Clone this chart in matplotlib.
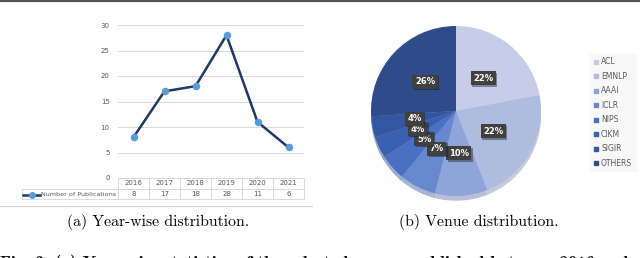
import matplotlib
matplotlib.use("Agg")
import matplotlib.pyplot as plt
import matplotlib.patheffects as pe
from matplotlib.lines import Line2D

# data
years = ["2016", "2017", "2018", "2019", "2020", "2021"]
pubs = [8, 17, 18, 28, 11, 6]
series_name = "Number of Publications"

venues = ["ACL", "EMNLP", "AAAI", "ICLR", "NIPS", "CIKM", "SIGIR", "OTHERS"]
shares = [22, 22, 10, 7, 5, 4, 4, 26]
venue_colors = ["#c5cde8", "#aebce0", "#8fa4d8", "#6787ce", "#4a70c3",
                "#3a60b2", "#34559f", "#2e4b8a"]

W, H = 640, 258
fig = plt.figure(figsize=(W / 100, H / 100), dpi=100)

def px(x0, y0, x1, y1):
    # pixel box (top-left origin) -> figure fraction rect
    return [x0 / W, 1 - y1 / H, (x1 - x0) / W, (y1 - y0) / H]

grey_txt = "#595959"
grid_c = "#d9d9d9"

# ---- left: line chart with data table ----
ax = fig.add_axes(px(118, 25, 304, 178))
x = list(range(len(years)))
ax.plot(x, pubs, color="#1f3864", lw=1.8, marker="o", ms=4.4,
        mfc="#5b9bd5", mec="#5b9bd5", zorder=3)
ax.set_xlim(-0.5, len(years) - 0.5)
ax.set_ylim(0, 30)
ax.set_yticks(range(0, 31, 5))
ax.grid(axis="y", color=grid_c, lw=0.7)
ax.set_axisbelow(True)
for s in ax.spines.values():
    s.set_visible(False)
ax.tick_params(axis="y", length=0, labelsize=5, labelcolor=grey_txt, pad=6)
ax.tick_params(axis="x", length=0, labelbottom=False)

ax_h = 153.0
lab_w = 96 / 186
tbl = ax.table(cellText=[[""] + [str(v) for v in pubs]],
               colLabels=[""] + years,
               colWidths=[lab_w] + [1 / 6] * 6,
               cellLoc="center", colLoc="center",
               bbox=[-lab_w, -21 / ax_h, 1 + lab_w, 21 / ax_h])
tbl.auto_set_font_size(False)
for (r, c), cell in tbl.get_celld().items():
    cell.set_edgecolor(grid_c)
    cell.set_linewidth(0.7)
    cell.get_text().set_fontsize(5)
    cell.get_text().set_color(grey_txt)
tbl[0, 0].set_visible(False)

# legend key inside the row label cell
ya = 1 - 194.5 / H
fig.add_artist(Line2D([23 / W, 40 / W], [ya, ya], color="#1f3864", lw=1.8,
                      transform=fig.transFigure))
fig.add_artist(Line2D([31.5 / W], [ya], marker="o", ms=4, color="#5b9bd5",
                      transform=fig.transFigure))
fig.text(41 / W, ya, series_name, fontsize=4.6, color=grey_txt, va="center")

# light rule under left chart
fig.add_artist(Line2D([0, 312 / W], [1 - 206 / H] * 2, color="#d0d0d0", lw=0.8,
                      transform=fig.transFigure))

# ---- right: pie ----
pax = fig.add_axes(px(371, 26, 541, 196))
wedges, _, autot = pax.pie(shares, colors=venue_colors, startangle=90,
                           counterclock=False, autopct="%d%%",
                           pctdistance=0.5, radius=1,
                           shadow={"ox": 0.0, "oy": -0.04, "shade": 0.2},
                           wedgeprops=dict(lw=0),
                           textprops=dict(color="white", fontsize=6,
                                          fontweight="bold"))
for t in autot:
    t.set_bbox(dict(boxstyle="square,pad=0.3", fc="#404040", ec="none"))
    t.get_bbox_patch().set_path_effects(
        [pe.SimplePatchShadow(offset=(1, -1), alpha=0.4), pe.Normal()])
pax.set_xlim(-1, 1)
pax.set_ylim(-1, 1)
pax.set_aspect("equal")

handles = [Line2D([], [], ls="none", marker="s", ms=3.5, color=c)
           for c in venue_colors]
leg = fig.legend(handles, venues, loc="upper left",
                 bbox_to_anchor=(585 / W, 1 - 49 / H), frameon=True,
                 fontsize=5.5, labelspacing=0.72, handlelength=0.6,
                 handletextpad=0.4, borderpad=0.6, fancybox=False)
leg.get_frame().set_facecolor("#f7f7f7")
leg.get_frame().set_edgecolor("none")
for t in leg.get_texts():
    t.set_color(grey_txt)

# ---- captions ----
fig.text(158 / W, 1 - 222 / H, "(a) Year-wise distribution.", ha="center",
         va="center", fontsize=11.3, family="cmr10")
fig.text(479 / W, 1 - 222 / H, "(b) Venue distribution.", ha="center",
         va="center", fontsize=11.3, family="cmr10")
fig.text(0, 1 - 254.5 / H,
         "Fig. 3: (a) Year-wise statistics of the selected papers published between 2016 and",
         ha="left", va="top", fontsize=12.6, family="cmb10")

# top rule
fig.add_artist(Line2D([0, 1], [1 - 1 / H] * 2, color="#555555", lw=1.6,
                      transform=fig.transFigure))

fig.savefig("out.png", dpi=100)
